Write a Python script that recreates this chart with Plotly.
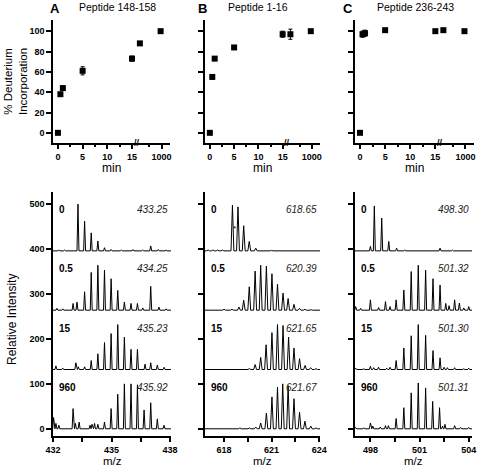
import plotly.graph_objects as go

W, H = 477, 468
FONT = "Liberation Sans"

# ---------------- top row: deuterium incorporation ----------------
times = [0, 0.5, 1, 5, 15, 120, 960]
deut_A = [0, 38, 44, 61, 73, 88, 100]
err_A = [0, 1.5, 2, 4, 2.5, 1.5, 0]
deut_B = [0, 55, 73, 84, 97, 97, 100]
err_B = [0, 2, 1, 1, 3, 5, 0]
deut_C = [0, 97, 98, 101, 100, 101, 100]
err_C = [0, 3, 3, 1, 1, 1, 0]

time_major = [0, 5, 10, 15, 1000]
time_major_labels = ["0", "5", "10", "15", "1000"]
time_minor = [2.5, 7.5, 12.5, 500]
deut_ticks = [0, 20, 40, 60, 80, 100]

panel_letters = ["A", "B", "C"]
peptides = ["Peptide 148-158", "Peptide 1-16", "Peptide 236-243"]

# ---------------- bottom row: mass spectra ----------------
spec_times = ["0", "0.5", "15", "960"]
spec_offsets = [396, 264, 132, 0]

A_labels = ["433.25", "434.25", "435.23", "435.92"]
A_mz = [
    [432.3, 432.6, 433.28, 433.62, 433.96, 434.30, 434.64, 434.98, 435.5, 436.1, 436.6, 437.01, 437.4, 437.8],
    [432.2, 432.5, 433.03, 433.23, 433.62, 433.96, 434.30, 434.64, 434.98, 435.32, 435.66, 436.0, 436.33, 436.6, 437.01, 437.43, 437.8],
    [432.15, 432.5, 433.17, 433.3, 433.62, 433.96, 434.30, 434.64, 434.98, 435.32, 435.66, 436.0, 436.33, 436.72, 437.01, 437.35, 437.7],
    [432.03, 432.15, 432.3, 433.03, 433.15, 433.34, 433.9, 434.0, 434.13, 434.30, 434.64, 434.98, 435.32, 435.66, 436.0, 436.33, 436.67, 437.01, 437.35, 437.69],
]
A_int = [
    [2, 2, 104, 66, 40, 22, 7, 3, 2, 3, 2, 11, 3, 2],
    [4, 3, 15, 18, 41, 84, 100, 89, 70, 44, 18, 15, 15, 5, 53, 7, 3],
    [8, 3, 15, 6, 6, 20, 35, 60, 80, 100, 72, 45, 45, 12, 15, 10, 5],
    [25, 12, 8, 45, 12, 15, 8, 10, 12, 10, 15, 45, 77, 100, 100, 98, 42, 58, 22, 8],
]

B_labels = ["618.65", "620.39", "621.65", "621.67"]
B_mz = [
    [617.0, 617.3, 617.6, 617.9, 618.53, 618.88, 619.24, 619.59, 620.0, 621.0, 622.0, 623.0],
    [617.2, 617.6, 618.0, 618.5, 618.94, 619.24, 619.59, 619.96, 620.31, 620.67, 621.02, 621.37, 621.72, 622.04, 622.41, 622.76, 623.1, 623.5],
    [617.5, 618.3, 619.0, 619.6, 619.96, 620.31, 620.65, 621.02, 621.37, 621.72, 622.07, 622.41, 622.76, 623.11, 623.46, 623.8],
    [617.5, 618.3, 619.0, 619.6, 620.0, 620.31, 620.67, 621.02, 621.37, 621.70, 622.04, 622.41, 622.76, 623.10, 623.47, 623.8],
]
B_int = [
    [2, 2, 2, 2, 102, 98, 56, 21, 6, 1, 1, 1],
    [1, 1, 2, 2, 7, 22, 52, 87, 100, 98, 81, 58, 38, 26, 13, 4, 2, 1],
    [1, 1, 1, 2, 11, 27, 55, 82, 100, 98, 72, 48, 24, 9, 4, 2],
    [1, 1, 2, 2, 4, 13, 35, 71, 93, 100, 96, 67, 37, 17, 6, 2],
]

C_labels = ["498.30", "501.32", "501.30", "501.31"]
C_mz = [
    [497.1, 497.5, 498.0, 498.24, 498.69, 499.12, 499.6, 500.1, 500.5, 502.25, 503.0],
    [497.1, 497.4, 498.0, 498.5, 498.92, 499.2, 499.57, 500.04, 500.49, 500.92, 501.37, 501.82, 502.25, 502.6, 502.8, 503.14, 503.43, 503.7, 504.0],
    [497.1, 497.6, 498.0, 498.2, 498.5, 499.0, 499.2, 499.57, 500.04, 500.49, 500.92, 501.37, 501.82, 502.25, 502.5, 502.7, 503.14, 503.7, 504.0],
    [497.1, 497.6, 498.0, 498.15, 498.6, 498.92, 499.1, 499.57, 500.04, 500.49, 500.92, 501.37, 501.8, 502.22, 502.4, 502.55, 503.14, 503.5, 504.0],
]
C_int = [
    [1, 1, 10, 100, 73, 21, 6, 2, 1, 6, 2],
    [8, 4, 23, 6, 19, 8, 23, 45, 86, 100, 89, 70, 56, 15, 10, 23, 16, 5, 8],
    [3, 2, 7, 4, 5, 3, 5, 20, 48, 75, 100, 76, 42, 26, 5, 4, 4, 2, 3],
    [3, 2, 13, 6, 4, 7, 7, 23, 47, 80, 102, 91, 61, 47, 6, 10, 7, 3, 3],
]

mz_major = [[432, 435, 438], [618, 621, 624], [498, 501, 504]]
mz_minor = [[433.5, 436.5], [619.5, 622.5], [499.5, 502.5]]
intensity_ticks = [0, 100, 200, 300, 400, 500]

# ---------------- layout geometry (pixels) ----------------
top_x = [(53, 170), (205, 320), (355, 474)]
top_y = (20, 143)
bot_x = [(53, 171), (205, 320), (355, 472)]
bot_y = (192, 436)
bot_ranges = [(432, 438.05), (616.8, 624.05), (497.06, 504.2)]
half_width = [0.05, 0.09, 0.06]


def xd(a, b):
    return [a / W, b / W]


def yd(top, bottom):
    return [1 - bottom / H, 1 - top / H]


def tpos(t):
    # broken time axis: linear up to 15 min, compressed after the break
    return t if t <= 15 else 16 + t * 0.005


def profile(mz, inten, off, lo, hi, w):
    xs, ys = [lo], [off]
    for m, h in sorted(zip(mz, inten)):
        xs += [m - w, m, m + w]
        ys += [off, off + h, off]
    xs.append(hi)
    ys.append(off)
    return xs, ys


fig = go.Figure()

axis_common = dict(
    showline=True, linecolor="black", linewidth=1.5, showgrid=False, zeroline=False,
    ticks="outside", ticklen=4, tickwidth=1.5, tickcolor="black", automargin=False,
    ticklabeloverflow="allow",
    tickfont=dict(family=FONT, size=9, color="black", weight="bold"),
)

deuts = [deut_A, deut_B, deut_C]
errs = [err_A, err_B, err_C]
layout = {}
annotations = []

for i in range(3):
    xa = f"xaxis{'' if i == 0 else i + 1}"
    ya = f"yaxis{'' if i == 0 else i + 1}"
    xr = f"x{'' if i == 0 else i + 1}"
    yr = f"y{'' if i == 0 else i + 1}"
    fig.add_trace(go.Scatter(
        x=[tpos(t) for t in times], y=deuts[i], xaxis=xr, yaxis=yr, mode="markers",
        marker=dict(symbol="square", size=6, color="black"),
        error_y=dict(type="data", array=errs[i], color="black", thickness=1, width=2),
        showlegend=False, cliponaxis=False,
    ))
    layout[xa] = dict(
        axis_common, domain=xd(*top_x[i]), range=[-1, 22.7], anchor=yr,
        tickmode="array", tickvals=[tpos(t) for t in time_major], ticktext=time_major_labels,
        minor=dict(tickmode="array", tickvals=[tpos(t) for t in time_minor], ticks="outside",
                   ticklen=2, tickwidth=1.5, tickcolor="black"),
    )
    layout[ya] = dict(
        axis_common, domain=yd(*top_y), range=[-10, 111], anchor=xr,
        tickmode="array", tickvals=deut_ticks, showticklabels=(i == 0), ticklen=5,
    )
    # axis break marker
    annotations.append(dict(
        x=16, y=0, xref=xr, yref=f"{yr} domain", text="//", showarrow=False,
        font=dict(family=FONT, size=9, color="black", weight="bold"),
        xanchor="center", yanchor="middle",
    ))
    annotations.append(dict(
        x=(top_x[i][0] + top_x[i][1]) / 2 / W, y=1 - 168 / H, xref="paper", yref="paper",
        text="min", showarrow=False, font=dict(family=FONT, size=12, color="black"),
        xanchor="center", yanchor="middle",
    ))
    annotations.append(dict(
        x=(bot_x[i][0] + bot_x[i][1]) / 2 / W, y=0,
        xref="paper", yref="paper",
        text="m/z", showarrow=False, font=dict(family=FONT, size=11.5, color="black"),
        xanchor="center", yanchor="bottom", borderpad=0,
    ))

titles_x = [(55, 117), (202, 258), (348, 415)]
for i in range(3):
    annotations.append(dict(
        x=titles_x[i][0] / W, y=1, xref="paper", yref="paper", text=panel_letters[i],
        showarrow=False, font=dict(family=FONT, size=13, color="black", weight="bold"),
        xanchor="center", yanchor="top", borderpad=0,
    ))
    annotations.append(dict(
        x=titles_x[i][1] / W, y=1, xref="paper", yref="paper", text=peptides[i],
        showarrow=False, font=dict(family=FONT, size=10.5, color="black"),
        xanchor="center", yanchor="top", borderpad=0,
    ))

annotations.append(dict(
    x=15 / W, y=1 - 82 / H, xref="paper", yref="paper", text="% Deuterium<br>Incorporation",
    textangle=-90, showarrow=False, font=dict(family=FONT, size=11.5, color="black"),
    xanchor="center", yanchor="middle",
))
annotations.append(dict(
    x=12 / W, y=1 - 320 / H, xref="paper", yref="paper", text="Relative Intensity",
    textangle=-90, showarrow=False, font=dict(family=FONT, size=12, color="black"),
    xanchor="center", yanchor="middle",
))

all_mz = [A_mz, B_mz, C_mz]
all_int = [A_int, B_int, C_int]
all_labels = [A_labels, B_labels, C_labels]
for i in range(3):
    n = i + 4
    xa, ya, xr, yr = f"xaxis{n}", f"yaxis{n}", f"x{n}", f"y{n}"
    lo, hi = bot_ranges[i]
    for k in range(4):
        xs, ys = profile(all_mz[i][k], all_int[i][k], spec_offsets[k], lo, hi, half_width[i])
        fig.add_trace(go.Scatter(
            x=xs, y=ys, xaxis=xr, yaxis=yr, mode="lines",
            line=dict(color="black", width=1), showlegend=False,
        ))
        annotations.append(dict(
            x=0.035, y=spec_offsets[k] + 92, xref=f"{xr} domain", yref=yr, text=spec_times[k],
            showarrow=False, xanchor="left", yanchor="middle",
            font=dict(family=FONT, size=10, color="black", weight="bold"),
        ))
        annotations.append(dict(
            x=0.995, y=spec_offsets[k] + 92, xref=f"{xr} domain", yref=yr,
            text=f"<i>{all_labels[i][k]}</i>",
            showarrow=False, xanchor="right", yanchor="middle",
            font=dict(family=FONT, size=10, color="#222"),
        ))
    layout[xa] = dict(
        axis_common, domain=xd(*bot_x[i]), range=[lo, hi], anchor=yr,
        tickmode="array", tickvals=mz_major[i], ticktext=[str(v) for v in mz_major[i]],
        minor=dict(tickmode="array", tickvals=mz_minor[i], ticks="outside",
                   ticklen=4, tickwidth=1.5, tickcolor="black"),
    )
    layout[ya] = dict(
        axis_common, domain=yd(*bot_y), range=[-16, 527], anchor=xr,
        tickmode="array", tickvals=intensity_ticks, showticklabels=(i == 0), ticklen=5,
    )

# small marker on the undeuterated spectrum of peptide 1-16
annotations.append(dict(
    x=618.68, y=445, xref="x5", yref="y5", text="*", showarrow=False,
    font=dict(family=FONT, size=8, color="black"), xanchor="center",
))

fig.update_layout(
    template="none",
    width=W, height=H, margin=dict(l=0, r=0, t=0, b=0, autoexpand=False),
    paper_bgcolor="white", plot_bgcolor="white", showlegend=False,
    annotations=annotations, **layout,
)

fig.write_html(
    "out.html",
    config={"displayModeBar": False},
    post_script="document.body.style.margin='0';document.body.style.overflow='hidden';",
)
